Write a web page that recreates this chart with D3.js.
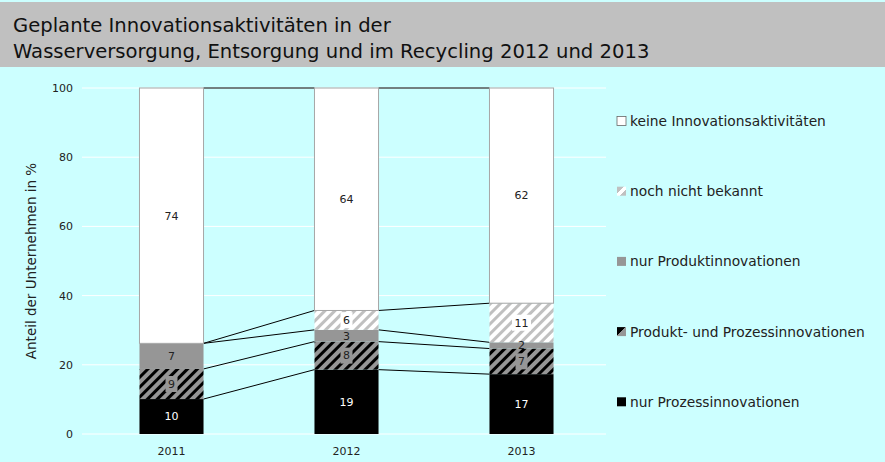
<!DOCTYPE html>
<html>
<head>
<meta charset="utf-8">
<script src="https://cdn.jsdelivr.net/npm/d3@7"></script>
<style>
  body { margin: 0; background: #ccffff; }
  svg { display: block; }
</style>
</head>
<body>
<div id="chart"></div>
<script>
// data (shares in %, bottom to top)
const years = ["2011", "2012", "2013"];
const seriesNames = [
  "nur Prozessinnovationen",
  "Produkt- und Prozessinnovationen",
  "nur Produktinnovationen",
  "noch nicht bekannt",
  "keine Innovationsaktivitäten"
];
const nurProzess     = [10.1, 18.6, 17.3];
const produktProzess = [8.7, 8.1, 7.4];
const nurProdukt     = [7.4, 3.4, 1.8];
const nochNicht      = [0, 5.6, 11.3];
const keine          = [73.8, 64.3, 62.2];
const yTicks = [0, 20, 40, 60, 80, 100];

const width = 885, height = 462;
const font = "DejaVu Sans, Verdana, sans-serif";
const svg = d3.select("#chart").append("svg")
    .attr("width", width)
    .attr("height", height);

const defs = svg.append("defs");

// hatch patterns for the bars
const hatch = (id, bg, fg) => {
  const p = defs.append("pattern")
      .attr("id", id)
      .attr("patternUnits", "userSpaceOnUse")
      .attr("width", 7)
      .attr("height", 7)
      .attr("patternTransform", "rotate(45)");
  p.append("rect").attr("width", 7).attr("height", 7).attr("fill", bg);
  p.append("rect").attr("width", 3).attr("height", 7).attr("fill", fg);
};
hatch("hatchDark", "#969696", "#000");
hatch("hatchLight", "#fff", "#c0c0c0");

// little diagonal swatches for the legend
const swatch = (id, stops) => {
  const g = defs.append("linearGradient")
      .attr("id", id)
      .attr("x1", 0).attr("y1", 0).attr("x2", 1).attr("y2", 1);
  stops.forEach(s => g.append("stop").attr("offset", s[0]).attr("stop-color", s[1]));
};
swatch("legDark", [[0, "#000"], [0.45, "#000"], [0.45, "#969696"], [1, "#969696"]]);
swatch("legLight", [[0, "#c0c0c0"], [0.4, "#c0c0c0"], [0.4, "#fff"], [0.65, "#fff"], [0.65, "#c0c0c0"], [1, "#c0c0c0"]]);

const fills = ["#000", "url(#hatchDark)", "#969696", "url(#hatchLight)", "#fff"];
const legendFills = ["#000", "url(#legDark)", "#969696", "url(#legLight)", "#fff"];
const baseColors = ["#000", "#969696", "#969696", "#fff", "#fff"];
const labelColors = ["#fff", "#222", "#222", "#222", "#222"];

// title band
svg.append("rect")
    .attr("x", 0).attr("y", 2)
    .attr("width", width).attr("height", 65)
    .attr("fill", "#c0c0c0");

const title = svg.append("text")
    .attr("font-family", font)
    .attr("font-size", 19.6)
    .attr("fill", "#111");
title.append("tspan").attr("x", 13).attr("y", 32)
    .text("Geplante Innovationsaktivitäten in der");
title.append("tspan").attr("x", 13).attr("y", 58)
    .text("Wasserversorgung, Entsorgung und im Recycling 2012 und 2013");

// scales
const x = d3.scaleBand()
    .domain(years)
    .range([84, 609])
    .paddingInner(0.634)
    .paddingOuter(0.317);

const y = d3.scaleLinear()
    .domain([0, 100])
    .range([434, 88]);

// gridlines
svg.append("g")
    .selectAll("line")
    .data(yTicks)
    .join("line")
    .attr("x1", 82).attr("x2", 606)
    .attr("y1", d => y(d)).attr("y2", d => y(d))
    .attr("stroke", "#fff")
    .attr("stroke-width", 1);

// y axis labels
const yAxis = svg.append("g")
    .attr("transform", "translate(73,0)")
    .call(d3.axisLeft(y).tickValues(yTicks).tickSize(0).tickPadding(0));
yAxis.select(".domain").remove();
yAxis.selectAll("text")
    .attr("font-family", font)
    .attr("font-size", 11)
    .attr("fill", "#222");

svg.append("text")
    .attr("transform", "translate(36,261) rotate(-90)")
    .attr("text-anchor", "middle")
    .attr("font-family", font)
    .attr("font-size", 13.5)
    .attr("fill", "#222")
    .text("Anteil der Unternehmen in %");

// x axis labels
const xAxis = svg.append("g")
    .attr("transform", "translate(0,447)")
    .call(d3.axisBottom(x).tickSize(0).tickPadding(0));
xAxis.select(".domain").remove();
xAxis.selectAll("text")
    .attr("font-family", font)
    .attr("font-size", 11)
    .attr("fill", "#222");

// stack
const table = years.map((yr, i) => ({
  year: yr,
  s0: nurProzess[i],
  s1: produktProzess[i],
  s2: nurProdukt[i],
  s3: nochNicht[i],
  s4: keine[i]
}));
const keys = ["s0", "s1", "s2", "s3", "s4"];
const stacked = d3.stack().keys(keys)(table);

// connector lines between bars
const links = svg.append("g");
stacked.forEach(layer => {
  for (let i = 0; i < years.length - 1; i++) {
    links.append("line")
        .attr("x1", x(years[i]) + x.bandwidth())
        .attr("x2", x(years[i + 1]))
        .attr("y1", y(layer[i][1]))
        .attr("y2", y(layer[i + 1][1]))
        .attr("stroke", "#000")
        .attr("stroke-width", 1);
  }
});

// bars
stacked.forEach((layer, k) => {
  svg.append("g")
      .selectAll("rect")
      .data(layer)
      .join("rect")
      .attr("x", d => x(d.data.year))
      .attr("width", x.bandwidth())
      .attr("y", d => y(d[1]))
      .attr("height", d => y(d[0]) - y(d[1]))
      .attr("fill", fills[k])
      .attr("stroke", k === 4 ? "#a6a6a6" : "none")
      .attr("stroke-width", 1);
});

// value labels
stacked.forEach((layer, k) => {
  layer.forEach(d => {
    const v = d[1] - d[0];
    if (v <= 0) return;
    const cx = x(d.data.year) + x.bandwidth() / 2;
    const cy = (y(d[0]) + y(d[1])) / 2;
    const label = String(Math.round(v));
    const w = label.length * 7 + 5;
    if (k === 1 || k === 3) {
      svg.append("rect")
          .attr("x", cx - w / 2).attr("y", cy - 8)
          .attr("width", w).attr("height", 16)
          .attr("fill", baseColors[k]);
    }
    svg.append("text")
        .attr("x", cx).attr("y", cy)
        .attr("dy", "0.35em")
        .attr("text-anchor", "middle")
        .attr("font-family", font)
        .attr("font-size", 11)
        .attr("fill", labelColors[k])
        .text(label);
  });
});

// legend (top to bottom)
const legendItems = seriesNames.map((n, k) => ({ name: n, k })).reverse();
const legend = svg.append("g")
    .selectAll("g")
    .data(legendItems)
    .join("g")
    .attr("transform", (d, i) => `translate(617,${121 + i * 70.2})`);
legend.append("rect")
    .attr("x", 0).attr("y", -4.5)
    .attr("width", 9).attr("height", 9)
    .attr("fill", d => legendFills[d.k])
    .attr("stroke", d => d.k === 4 ? "#666" : "none")
    .attr("stroke-width", 0.8);
legend.append("text")
    .attr("x", 13).attr("y", 0)
    .attr("dy", "0.36em")
    .attr("font-family", font)
    .attr("font-size", 13.8)
    .attr("fill", "#222")
    .text(d => d.name);
</script>
</body>
</html>
